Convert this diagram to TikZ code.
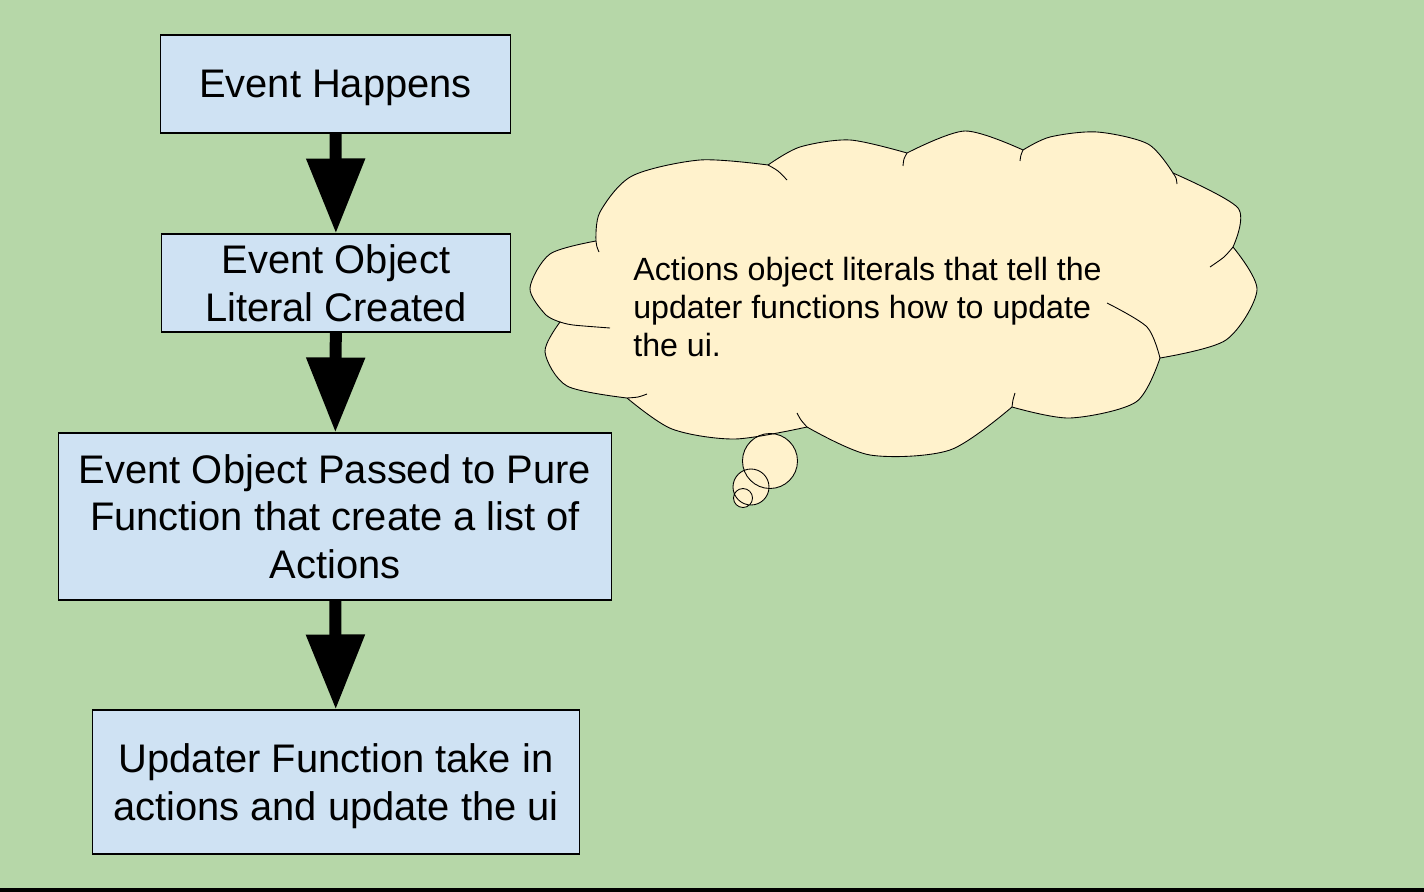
\documentclass[tikz,border=0pt]{standalone}
\usepackage{fontspec}
\setmainfont{Liberation Sans}
\usetikzlibrary{arrows.meta}

\definecolor{pagegreen}{HTML}{B6D7A8}
\definecolor{boxblue}{HTML}{CFE2F3}
\definecolor{cloudyellow}{HTML}{FFF2CC}

% outline of the thought cloud, one smooth piece per puff
\newcommand\cloudoutline{
    plot[smooth] coordinates {(596,241) (550,254) (530,288) (545,314) (560,322)}
    -- plot[smooth] coordinates {(560,322) (545,352) (567,386) (627,398)}
    -- plot[smooth] coordinates {(627,398) (672,429) (735,439) (807,427)}
    -- plot[smooth] coordinates {(807,427) (870,455) (950,450) (1012,407)}
    -- plot[smooth] coordinates {(1012,407) (1070,418) (1136,402) (1160,358)}
    -- plot[smooth] coordinates {(1160,358) (1226,340) (1257,290) (1233,247)}
    -- plot[smooth] coordinates {(1233,247) (1238,208) (1173,173)}
    -- plot[smooth] coordinates {(1173,173) (1148,144) (1097,132) (1050,137) (1023,150)}
    -- plot[smooth] coordinates {(1023,150) (965,131) (907,153)}
    -- plot[smooth] coordinates {(907,153) (850,140) (800,147) (768,165)}
    -- plot[smooth] coordinates {(768,165) (700,160) (632,176) (600,212) (596,241)}
    -- cycle}

\begin{document}
\begin{tikzpicture}[x=0.02cm, y=-0.02cm,
    stepbox/.style={draw, line width=0.6pt, fill=boxblue, align=center, inner sep=0pt,
        text depth=0pt, font=\fontsize{22.7}{27.2}\selectfont},
    bigarrow/.style={line width=0.24cm, -{Triangle[width=1.12cm, length=1.5cm]}},
    thin line/.style={line width=0.5pt}]
        \fill[pagegreen] (0, 0) rectangle (1424, 892);
        \useasboundingbox (0, 0) rectangle (1424, 892);
        \fill[black] (0, 888) rectangle (1424, 892);

        \node[stepbox, minimum width=7.02cm, minimum height=1.96cm] (happen) at (335.5, 84) {Event Happens};
        \node[stepbox, minimum width=7.0cm, minimum height=1.96cm] (literal) at (336, 283) {Event Object\\Literal Created};
        \node[stepbox, minimum width=11.08cm, minimum height=3.34cm] (pure) at (335, 516.5) {Event Object Passed to Pure\\Function that create a list of\\Actions};
        \node[stepbox, minimum width=9.76cm, minimum height=2.88cm] (updater) at (336, 782) {Updater Function take in\\actions and update the ui};

        \draw[bigarrow] (happen) -- (literal);
        \draw[bigarrow] (literal) -- (pure);
        \draw[bigarrow] (pure) -- (updater);

        % thought cloud and its bubbles
        \fill[cloudyellow] \cloudoutline;
        \fill[cloudyellow] (770, 461) circle (27.5) (751, 487) circle (18) (743, 498) circle (9.5);
        \draw[thin line] (770, 461) circle (27.5) (751, 487) circle (18) (743, 498) circle (9.5);
        \draw[thin line] \cloudoutline;

        % seams where the puffs run into the cloud
        \draw[thin line] plot[smooth] coordinates {(596,241) (597,247) (599,252)};
        \draw[thin line] plot[smooth] coordinates {(560,322) (573,325) (610,328)};
        \draw[thin line] plot[smooth] coordinates {(627,398) (638,397) (647,394)};
        \draw[thin line] plot[smooth] coordinates {(807,427) (801,420) (797,413)};
        \draw[thin line] plot[smooth] coordinates {(1012,407) (1013,400) (1015,393)};
        \draw[thin line] plot[smooth] coordinates {(1160,358) (1147,327) (1107,303)};
        \draw[thin line] plot[smooth] coordinates {(1233,247) (1224,257) (1210,267)};
        \draw[thin line] plot[smooth] coordinates {(1173,173) (1176,178) (1177,184)};
        \draw[thin line] plot[smooth] coordinates {(1023,150) (1021,155) (1020,161)};
        \draw[thin line] plot[smooth] coordinates {(907,153) (904,159) (903,166)};
        \draw[thin line] plot[smooth] coordinates {(768,165) (778,171) (787,180)};

        \node[align=left, anchor=west, inner sep=0pt, font=\fontsize{18.3}{21.5}\selectfont] (note) at (633, 307)
            {Actions object literals that tell the\\updater functions how to update\\the ui.};
    \end{tikzpicture}
\end{document}
